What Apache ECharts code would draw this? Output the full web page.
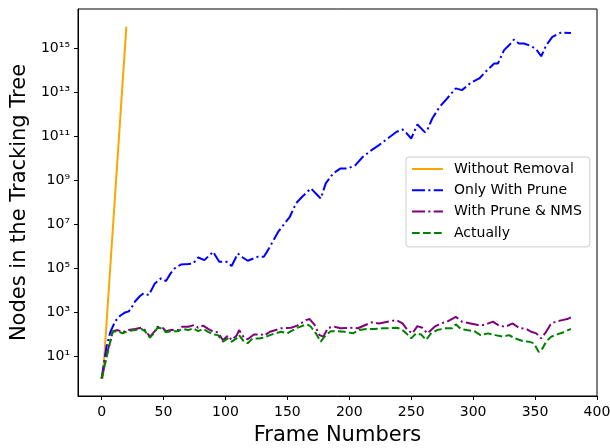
<!DOCTYPE html>
<html>
<head>
<meta charset="utf-8">
<script src="https://cdn.jsdelivr.net/npm/echarts@6/dist/echarts.min.js"></script>
<style>
  html, body { margin: 0; padding: 0; background: #fff; }
  #chart { width: 610px; height: 448px; }
</style>
</head>
<body>
<div id="chart"></div>
<script>
// ---- data ----
const seriesNames = ['Without Removal', 'Only With Prune', 'With Prune & NMS', 'Actually'];

const xTickValues = [0, 50, 100, 150, 200, 250, 300, 350, 400];
const yTickValues = [1e1, 1e3, 1e5, 1e7, 1e9, 1e11, 1e13, 1e15];
const yTickLabels = ['10\u00B9', '10\u00B3', '10\u2075', '10\u2077', '10\u2079', '10\u00B9\u00B9', '10\u00B9\u00B3', '10\u00B9\u2075'];

const orangeFrames = [1, 5, 10, 15, 20];
const orangeNodes  = [1, 2.3e3, 3.8e7, 6.2e11, 1e16];

const blueFrames = [0, 4, 7, 11, 15, 19, 22, 25, 27, 31, 34, 38, 41, 43, 48, 52, 56, 59, 64, 70, 74, 78, 83, 88, 90, 95, 101, 105, 110, 114, 118, 126, 131, 134, 137, 143, 152, 157, 162, 169, 173, 177, 181, 187, 193, 199, 205, 211, 218, 224, 230, 238, 243, 246, 250, 255, 261, 263, 267, 273, 279, 286, 291, 298, 305, 310, 317, 320, 325, 329, 333, 337, 341, 347, 351, 355, 359, 364, 371, 379];
const blueNodes  = [1, 28, 126, 398, 708, 1000, 1120, 2000, 3160, 5620, 7410, 6170, 1.26e4, 2.09e4, 3.55e4, 2.69e4, 6.31e4, 1e5, 1.51e5, 1.58e5, 1.70e5, 3.16e5, 2.40e5, 4.47e5, 5.75e5, 2.0e5, 2.0e5, 1.29e5, 4.79e5, 3.16e5, 2.24e5, 3.39e5, 3.39e5, 6.31e5, 1.26e6, 5.01e6, 2.24e7, 9.12e7, 1.82e8, 4.37e8, 2.57e8, 1.51e8, 7.41e8, 2.09e9, 3.55e9, 3.55e9, 5.01e9, 1.20e10, 2.40e10, 4.07e10, 7.41e10, 1.62e11, 2.09e11, 1.48e11, 8.13e10, 3.55e11, 1.58e11, 2.0e11, 6.61e11, 2.24e12, 5.37e12, 1.55e13, 1.29e13, 2.75e13, 4.37e13, 8.71e13, 2.09e14, 2.09e14, 8.51e14, 1.41e15, 2.57e15, 1.70e15, 1.70e15, 1.29e15, 9.12e14, 4.47e14, 1.41e15, 3.39e15, 5.37e15, 5.13e15];

const purpleFrames = [0, 5, 9, 13, 17, 21, 27, 32, 35, 39, 43, 45, 49, 52, 56, 62, 65, 70, 75, 78, 82, 86, 90, 94, 98, 102, 105, 109, 111, 115, 118, 123, 129, 131, 136, 145, 153, 158, 165, 168, 172, 176, 179, 183, 188, 193, 201, 207, 218, 224, 231, 238, 243, 247, 251, 255, 259, 263, 269, 274, 279, 286, 291, 298, 304, 309, 316, 321, 326, 332, 337, 343, 347, 351, 355, 359, 363, 367, 372, 376, 380];
const purpleNodes  = [1, 18, 141, 158, 126, 158, 178, 200, 158, 79, 141, 224, 209, 141, 158, 158, 224, 224, 269, 200, 251, 178, 132, 126, 54, 89, 56, 89, 158, 71, 60, 100, 100, 87, 132, 191, 200, 251, 447, 501, 269, 93, 79, 200, 224, 191, 200, 191, 355, 316, 380, 447, 316, 158, 112, 240, 200, 112, 224, 316, 380, 631, 380, 316, 269, 269, 380, 251, 224, 316, 200, 178, 132, 112, 66, 132, 316, 380, 447, 501, 631];

const greenFrames = [0, 5, 9, 13, 17, 21, 27, 32, 35, 39, 43, 45, 49, 52, 56, 62, 65, 70, 74, 78, 82, 86, 90, 94, 98, 102, 105, 109, 111, 115, 118, 122, 127, 131, 136, 140, 145, 150, 153, 158, 164, 166, 169, 173, 177, 180, 185, 191, 196, 203, 208, 215, 220, 227, 232, 238, 242, 246, 250, 254, 258, 262, 266, 271, 278, 283, 286, 290, 295, 301, 306, 312, 318, 324, 329, 334, 340, 345, 349, 353, 356, 359, 363, 368, 373, 379];
const greenNodes  = [1, 16, 132, 141, 112, 141, 158, 178, 141, 71, 126, 200, 191, 126, 141, 141, 178, 158, 191, 141, 178, 132, 100, 93, 47, 66, 47, 66, 93, 47, 40, 66, 66, 71, 93, 112, 132, 112, 141, 200, 269, 288, 224, 112, 47, 79, 141, 141, 132, 112, 158, 178, 178, 191, 191, 200, 178, 112, 66, 112, 100, 56, 112, 158, 191, 191, 288, 178, 158, 141, 93, 112, 93, 79, 93, 66, 50, 47, 40, 16, 23, 47, 79, 100, 126, 178];

const seriesColors = ['#FFA500', '#0000FF', '#800080', '#008000'];

function zip(xs, ys) { return xs.map((x, i) => [x, ys[i]]); }

const FONT = 'DejaVu Sans';
const chart = echarts.init(document.getElementById('chart'), null, { renderer: 'canvas' });

const dashDot = [13, 3.3, 2.1, 3.3];
const dashed = [7.7, 3.3];

chart.setOption({
  animation: false,
  backgroundColor: '#ffffff',
  textStyle: { fontFamily: FONT },
  grid: {
    left: 78, right: 13, top: 9, bottom: 52,
    outerBoundsMode: 'none', containLabel: false,
    show: true, borderColor: '#000', borderWidth: 1, backgroundColor: 'transparent'
  },
  legend: {
    orient: 'vertical',
    left: 406, top: 157,
    padding: [5, 8, 7, 5],
    itemWidth: 31, itemHeight: 14, itemGap: 7.3,
    backgroundColor: 'rgba(255,255,255,0.8)',
    borderColor: '#cccccc', borderWidth: 1, borderRadius: 3,
    itemStyle: { opacity: 0 },
    textStyle: { fontFamily: FONT, fontSize: 14, color: '#000', lineHeight: 14, padding: [0, 0, 0, 6] },
    data: seriesNames
  },
  xAxis: {
    type: 'value',
    min: -19.05, max: 400.05,
    name: 'Frame Numbers', nameLocation: 'middle', nameGap: 29,
    nameTextStyle: { fontFamily: FONT, fontSize: 21, color: '#000' },
    axisLine: { show: true, onZero: false, lineStyle: { color: '#000', width: 1 } },
    axisTick: { show: true, length: 4, lineStyle: { color: '#000', width: 1 }, customValues: xTickValues },
    axisLabel: { fontFamily: FONT, fontSize: 14, color: '#000', margin: 9, customValues: xTickValues },
    splitLine: { show: false }
  },
  yAxis: {
    type: 'log', logBase: 10,
    min: 0.1585, max: 6.31e16,
    name: 'Nodes in the Tracking Tree', nameLocation: 'middle', nameGap: 43,
    nameTextStyle: { fontFamily: FONT, fontSize: 21, color: '#000' },
    axisLine: { show: true, onZero: false, lineStyle: { color: '#000', width: 1 } },
    axisTick: { show: true, length: 4, lineStyle: { color: '#000', width: 1 }, customValues: yTickValues },
    axisLabel: {
      fontFamily: FONT, fontSize: 14, color: '#000', margin: 8, customValues: yTickValues,
      formatter: function (v) {
        let best = 0, bd = Infinity;
        yTickValues.forEach((t, i) => { const d = Math.abs(Math.log10(t) - Math.log10(v)); if (d < bd) { bd = d; best = i; } });
        return yTickLabels[best];
      }
    },
    splitLine: { show: false },
    minorTick: { show: false }
  },
  series: [
    { name: seriesNames[0], type: 'line', symbol: 'none', data: zip(orangeFrames, orangeNodes),
      lineStyle: { color: seriesColors[0], width: 2, type: 'solid' }, itemStyle: { color: seriesColors[0] } },
    { name: seriesNames[1], type: 'line', symbol: 'none', data: zip(blueFrames, blueNodes),
      lineStyle: { color: seriesColors[1], width: 2, type: dashDot }, itemStyle: { color: seriesColors[1] } },
    { name: seriesNames[2], type: 'line', symbol: 'none', data: zip(purpleFrames, purpleNodes),
      lineStyle: { color: seriesColors[2], width: 2, type: dashDot }, itemStyle: { color: seriesColors[2] } },
    { name: seriesNames[3], type: 'line', symbol: 'none', data: zip(greenFrames, greenNodes),
      lineStyle: { color: seriesColors[3], width: 2, type: dashed }, itemStyle: { color: seriesColors[3] } }
  ]
});
</script>
</body>
</html>
